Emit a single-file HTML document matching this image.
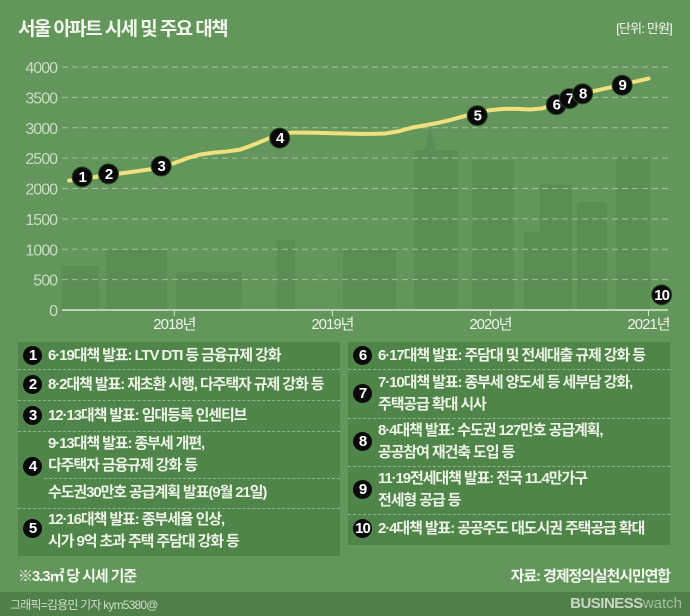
<!DOCTYPE html>
<html><head><meta charset="utf-8">
<style>
body{margin:0;width:690px;height:616px;background:#62965b;overflow:hidden;font-family:"Liberation Sans","Noto Sans CJK KR",sans-serif;position:relative}
.t{position:absolute;color:#f3f6ee;white-space:nowrap}
.panel{position:absolute;background:#4f8549}
.row{position:absolute;left:0;right:0;border-bottom:1px dashed #8fb488}
.badge{position:absolute;width:19px;height:19px;border-radius:50%;background:#0a0a0a;color:#fff;font:bold 15px "Liberation Sans",sans-serif;text-align:center;line-height:19px;letter-spacing:-1px}
.lt{position:absolute;color:#eef3e8;font-size:15px;letter-spacing:-1.1px;line-height:22px;white-space:nowrap;font-weight:bold}
</style></head><body>
<div class="t" style="left:18px;top:14px;font-size:19px;font-weight:bold;letter-spacing:-1.6px">서울 아파트 시세 및 주요 대책</div>
<div class="t" style="right:18px;top:18px;font-size:13px;letter-spacing:-0.8px">[단위: 만원]</div>
<svg id="chart" width="690" height="340" style="position:absolute;left:0;top:0"></svg>

<div class="panel" style="left:18px;top:342px;width:322px;height:214px">
 <div class="row" style="top:0;height:27px"></div>
 <div class="row" style="top:27px;height:31px"></div>
 <div class="row" style="top:58px;height:31px"></div>
 <div class="row" style="top:89px;height:47px;left:26px"></div>
 <div class="row" style="top:136px;height:30px"></div>
 <div class="badge" style="left:5px;top:4px">1</div>
 <div class="lt" style="left:30px;top:3px">6·19대책 발표: LTV DTI 등 금융규제 강화</div>
 <div class="badge" style="left:5px;top:33px">2</div>
 <div class="lt" style="left:30px;top:32px">8·2대책 발표: 재초환 시행, 다주택자 규제 강화 등</div>
 <div class="badge" style="left:5px;top:64px">3</div>
 <div class="lt" style="left:30px;top:63px">12·13대책 발표: 임대등록 인센티브</div>
 <div class="badge" style="left:5px;top:115px">4</div>
 <div class="lt" style="left:30px;top:91px">9·13대책 발표: 종부세 개편,<br>다주택자 금융규제 강화 등</div>
 <div class="lt" style="left:30px;top:140px">수도권30만호 공급계획 발표(9월 21일)</div>
 <div class="badge" style="left:5px;top:177px">5</div>
 <div class="lt" style="left:30px;top:167px">12·16대책 발표: 종부세율 인상,<br>시가 9억 초과 주택 주담대 강화 등</div>
</div>

<div class="panel" style="left:348px;top:342px;width:322px;height:203px">
 <div class="row" style="top:0;height:27px"></div>
 <div class="row" style="top:27px;height:49px"></div>
 <div class="row" style="top:76px;height:48px"></div>
 <div class="row" style="top:124px;height:48px"></div>
 <div class="badge" style="left:5px;top:4px">6</div>
 <div class="lt" style="left:30px;top:3px">6·17대책 발표: 주담대 및 전세대출 규제 강화 등</div>
 <div class="badge" style="left:5px;top:42px">7</div>
 <div class="lt" style="left:30px;top:30px">7·10대책 발표: 종부세 양도세 등 세부담 강화,<br>주택공급 확대 시사</div>
 <div class="badge" style="left:5px;top:90px">8</div>
 <div class="lt" style="left:30px;top:78px">8·4대책 발표: 수도권 127만호 공급계획,<br>공공참여 재건축 도입 등</div>
 <div class="badge" style="left:5px;top:138px">9</div>
 <div class="lt" style="left:30px;top:126px">11·19전세대책 발표: 전국 11.4만가구<br>전세형 공급 등</div>
 <div class="badge" style="left:5px;top:177px">10</div>
 <div class="lt" style="left:30px;top:176px">2·4대책 발표: 공공주도 대도시권 주택공급 확대</div>
</div>

<div class="t" style="left:18px;top:565px;font-size:15px;font-weight:bold;letter-spacing:-1.1px">※3.3㎡ 당 시세 기준</div>
<div class="t" style="right:20px;top:565px;font-size:15px;font-weight:bold;letter-spacing:-1.1px">자료: 경제정의실천시민연합</div>
<div style="position:absolute;left:0;top:592px;width:690px;height:24px;background:#4f8049"></div>
<div class="t" style="left:10px;top:596px;font-size:12px;letter-spacing:-0.8px;color:#cfdcc9">그래픽=김용민 기자 kym5380@</div>
<div class="t" style="right:8px;top:595px;font-size:15px;color:#c9d6c4"><b style="letter-spacing:-0.5px">BUSINESS</b><span style="color:#a9bfa4">watch</span></div>

<script>
const months = ["2017-05","2017-06","2017-07","2017-08","2017-09","2017-10","2017-11","2017-12","2018-01","2018-02","2018-03","2018-04","2018-05","2018-06","2018-07","2018-08","2018-09","2018-10","2018-11","2018-12","2019-01","2019-02","2019-03","2019-04","2019-05","2019-06","2019-07","2019-08","2019-09","2019-10","2019-11","2019-12","2020-01","2020-02","2020-03","2020-04","2020-05","2020-06","2020-07","2020-08","2020-09","2020-10","2020-11","2020-12","2021-01"];
const prices = [2130,2160,2190,2220,2250,2280,2310,2350,2420,2500,2560,2590,2610,2640,2720,2810,2900,2920,2920,2915,2910,2905,2900,2900,2905,2940,3000,3040,3080,3130,3190,3250,3290,3310,3310,3300,3320,3430,3510,3560,3610,3660,3710,3760,3810];
const eventLabels = ["1","2","3","4","5","6","7","8","9","10"];
const eventIdx = [1,3,7,16,31,37,38,39,42,45];
const eventVals = [2190,2240,2370,2830,3200,3380,3480,3560,3700,250];
const yTicks = [0,500,1000,1500,2000,2500,3000,3500,4000];
const xTickLabels = ["2018년","2019년","2020년","2021년"];
const xTickIdx = [8,20,32,44];

const NS="http://www.w3.org/2000/svg";
const svg=document.getElementById('chart');
const X0=69, DX=13.17, Y0=310, YS=243/4000;
const x=i=>X0+i*DX, y=v=>Y0-v*YS;
function mk(t,a,p){const e=document.createElementNS(NS,t);for(const k in a)e.setAttribute(k,a[k]);(p||svg).appendChild(e);return e;}

const bg=mk('g',{fill:'#5a8e53'});


[[62,266,37],[106,250,61],[176,272,66],[277,240,18],[343,250,53],[414,150,44],[472,160,42],[524,232,17],[540,184,32],[577,202,30],[616,157,34]].forEach(b=>mk('rect',{x:b[0],y:b[1],width:b[2],height:Y0-b[1]},bg));
mk('polygon',{points:'425,150 430,128 436,150'},bg);

yTicks.forEach(v=>{
  if(v>0){const g=mk('line',{x1:62,x2:668,y1:y(v),y2:y(v),stroke:'#9fc198','stroke-dasharray':'6,4','stroke-width':1});
  
  }
  const t=mk('text',{x:57,y:y(v)+6,'text-anchor':'end','font-size':16,fill:'#c8dcc2','letter-spacing':'-1'});
  
  
  t.textContent=v;
});
const ax=mk('line',{x1:62,x2:668,y1:Y0,y2:Y0,stroke:'#d8e6d2','stroke-width':1.5});


xTickLabels.forEach((l,k)=>{
  const tk=mk('line',{x1:x(xTickIdx[k]),x2:x(xTickIdx[k]),y1:Y0,y2:Y0+6,stroke:'#d8e6d2'});
  
  
  const t=mk('text',{x:x(xTickIdx[k]),y:329,'text-anchor':'middle','font-size':15,fill:'#f0f4ec','letter-spacing':'-1'});
  
  
  t.textContent=l;
});
const line=mk('polyline',{points:prices.map((v,i)=>x(i)+','+y(v)).join(' '),fill:'none',stroke:'#f1e07e','stroke-width':4,'stroke-linejoin':'round','stroke-linecap':'round'});


eventLabels.forEach((l,k)=>{
  const g=mk('g',{});
  
  
  mk('circle',{cx:x(eventIdx[k]),cy:y(eventVals[k]),r:10,fill:'#0a0a0a',stroke:'#2a4a28','stroke-width':1},g);
  const t=mk('text',{x:x(eventIdx[k]),y:y(eventVals[k])+5,'text-anchor':'middle','font-size':15,'font-weight':'bold',fill:'#fff','letter-spacing':'-1'},g);
  t.textContent=l;
});
</script>
</body></html>
